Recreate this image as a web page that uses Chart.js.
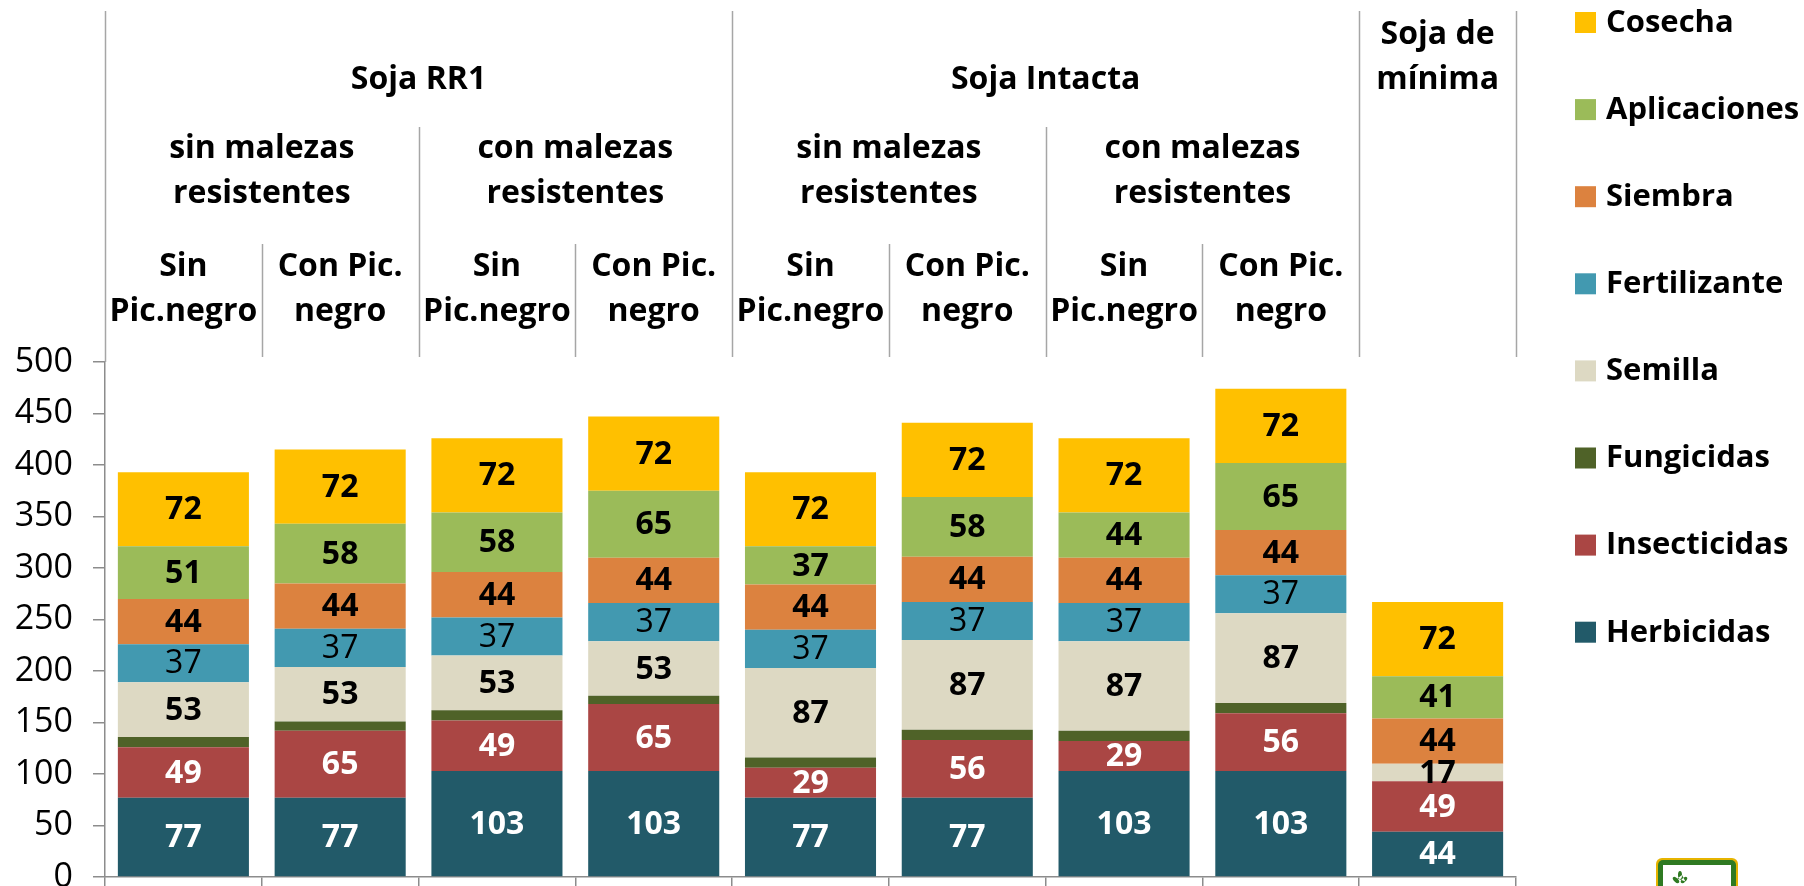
<!DOCTYPE html>
<html>
<head>
<meta charset="utf-8">
<script src="https://cdn.jsdelivr.net/npm/chart.js@4.4.0/dist/chart.umd.min.js"></script>
<style>
  html, body { margin: 0; padding: 0; background: #fff; }
  #wrap { width: 1804px; height: 886px; position: relative; }
</style>
</head>
<body>
<div id="wrap"><canvas id="costos"></canvas></div>
<script>
// columnas (de izquierda a derecha)
const categorias = [
    'Sin Pic.negro', 'Con Pic. negro', 'Sin Pic.negro', 'Con Pic. negro',
    'Sin Pic.negro', 'Con Pic. negro', 'Sin Pic.negro', 'Con Pic. negro',
    'Soja de mínima'
];

// cabecera en tres niveles
const cultivos = [['Soja RR1'], ['Soja Intacta'], ['Soja de', 'mínima']];
const cultivosSpan = [4, 4, 1];
const malezas = [
    ['sin malezas', 'resistentes'], ['con malezas', 'resistentes'],
    ['sin malezas', 'resistentes'], ['con malezas', 'resistentes'], []
];
const malezasSpan = [2, 2, 2, 2, 1];
const picudo = [
    ['Sin', 'Pic.negro'], ['Con Pic.', 'negro'], ['Sin', 'Pic.negro'], ['Con Pic.', 'negro'],
    ['Sin', 'Pic.negro'], ['Con Pic.', 'negro'], ['Sin', 'Pic.negro'], ['Con Pic.', 'negro'], []
];

// valores (u$s/ha) por rubro
const herbicidas   = [77, 77, 103, 103, 77, 77, 103, 103, 44];
const insecticidas = [49, 65, 49, 65, 29, 56, 29, 56, 49];
const fungicidas   = [10, 9, 10, 8, 10, 10, 10, 10, 0];
const semilla      = [53, 53, 53, 53, 87, 87, 87, 87, 17];
const fertilizante = [37, 37, 37, 37, 37, 37, 37, 37, 0];
const siembra      = [44, 44, 44, 44, 44, 44, 44, 44, 44];
const aplicaciones = [51, 58, 58, 65, 37, 58, 44, 65, 41];
const cosecha      = [72, 72, 72, 72, 72, 72, 72, 72, 72];

const yTicks = [0, 50, 100, 150, 200, 250, 300, 350, 400, 450, 500];

const FONT = "'Open Sans', 'Liberation Sans', sans-serif";
const GRIS = '#8c8c8c';

function serie(label, data, color, labelColor, labelWeight) {
    return {
        label, data,
        backgroundColor: color,
        borderWidth: 0,
        labelColor,            // null = sin etiqueta
        labelWeight: labelWeight || 'bold'
    };
}

const datasets = [
    serie('Herbicidas', herbicidas, '#225a69', '#ffffff'),
    serie('Insecticidas', insecticidas, '#aa4644', '#ffffff'),
    serie('Fungicidas', fungicidas, '#4f6228', null),
    serie('Semilla', semilla, '#ddd9c3', '#000000'),
    serie('Fertilizante', fertilizante, '#4299b0', '#000000', 'normal'),
    serie('Siembra', siembra, '#dc823f', '#000000'),
    serie('Aplicaciones', aplicaciones, '#9bbb59', '#000000'),
    serie('Cosecha', cosecha, '#ffc000', '#000000')
];

// etiquetas de valor dentro de cada segmento
const etiquetasPlugin = {
    id: 'etiquetas',
    afterDatasetsDraw(chart) {
        const ctx = chart.ctx;
        ctx.save();
        ctx.textAlign = 'center';
        ctx.textBaseline = 'middle';
        chart.data.datasets.forEach((ds, i) => {
            if (!ds.labelColor) return;
            const meta = chart.getDatasetMeta(i);
            meta.data.forEach((bar, j) => {
                const v = ds.data[j];
                if (!v) return;
                const { x, y, base } = bar.getProps(['x', 'y', 'base'], true);
                ctx.font = ds.labelWeight + ' 32px ' + FONT;
                ctx.fillStyle = ds.labelColor;
                ctx.fillText(String(v), x, (y + base) / 2 + 1);
            });
        });
        ctx.restore();
    }
};

// cabecera con los grupos y las lineas divisorias
const cabeceraPlugin = {
    id: 'cabecera',
    afterDraw(chart) {
        const { ctx, chartArea } = chart;
        const colW = (chartArea.right - chartArea.left) / categorias.length;
        const edge = k => chartArea.left + k * colW;

        const bordes = (spans) => {
            const out = [0];
            spans.reduce((acc, s) => { out.push(acc + s); return acc + s; }, 0);
            return out;
        };
        const bCult = bordes(cultivosSpan);
        const bMal = bordes(malezasSpan);

        // lineas verticales
        ctx.save();
        ctx.strokeStyle = '#a6a6a6';
        ctx.lineWidth = 1.5;
        for (let k = 0; k <= categorias.length; k++) {
            let top = 244;
            if (bCult.includes(k)) top = 11;
            else if (bMal.includes(k)) top = 127;
            const bottom = k === 0 ? chartArea.top : 357;
            const xx = Math.round(edge(k)) + 0.5;
            ctx.beginPath();
            ctx.moveTo(xx, top);
            ctx.lineTo(xx, bottom);
            ctx.stroke();
        }

        // textos
        ctx.fillStyle = '#000';
        ctx.textAlign = 'center';
        ctx.textBaseline = 'middle';
        ctx.font = 'bold 32px ' + FONT;
        const escribir = (grupos, spans, lastY) => {
            let k = 0;
            grupos.forEach((lineas, g) => {
                const cx = (edge(k) + edge(k + spans[g])) / 2;
                lineas.forEach((t, n) => {
                    ctx.fillText(t, cx, lastY - (lineas.length - 1 - n) * 45);
                });
                k += spans[g];
            });
        };
        escribir(cultivos, cultivosSpan, 80);
        escribir(malezas, malezasSpan, 194);
        escribir(picudo, picudo.map(() => 1), 312);
        ctx.restore();
    }
};

// leyenda a la derecha (de arriba hacia abajo: Cosecha ... Herbicidas)
const leyendaPlugin = {
    id: 'leyenda',
    afterDraw(chart) {
        const ctx = chart.ctx;
        ctx.save();
        ctx.font = 'bold 31px ' + FONT;
        ctx.textBaseline = 'middle';
        ctx.textAlign = 'left';
        const items = chart.data.datasets.slice().reverse();
        items.forEach((ds, i) => {
            const cy = 22 + i * 87.1;
            ctx.fillStyle = ds.backgroundColor;
            ctx.fillRect(1575, cy - 10, 21, 21);
            ctx.fillStyle = '#000';
            ctx.fillText(ds.label, 1606, cy + 1);
        });

        // logo recortado abajo a la derecha
        ctx.fillStyle = '#e6b400';
        ctx.beginPath();
        ctx.roundRect(1656, 858, 82, 40, 6);
        ctx.fill();
        ctx.fillStyle = '#2f7a22';
        ctx.beginPath();
        ctx.roundRect(1658, 860, 78, 38, 5);
        ctx.fill();
        ctx.fillStyle = '#fff';
        ctx.fillRect(1663, 865, 68, 30);
        ctx.fillStyle = '#2f7a22';
        ctx.beginPath();
        ctx.ellipse(1680, 875, 2, 4, 0, 0, Math.PI * 2);
        ctx.ellipse(1676, 880, 2, 4, -0.8, 0, Math.PI * 2);
        ctx.ellipse(1684, 880, 2, 4, 0.8, 0, Math.PI * 2);
        ctx.fill();
        ctx.restore();
    }
};

new Chart(document.getElementById('costos'), {
    type: 'bar',
    data: { labels: categorias, datasets },
    options: {
        responsive: true,
        maintainAspectRatio: false,
        animation: false,
        layout: { padding: { top: 362, right: 288, bottom: 0, left: 0 } },
        datasets: {
            bar: { categoryPercentage: 1, barPercentage: 0.836 }
        },
        plugins: {
            legend: { display: false },
            tooltip: { enabled: false },
            title: { display: false }
        },
        scales: {
            x: {
                stacked: true,
                offset: true,
                ticks: { display: false },
                grid: {
                    display: true,
                    drawOnChartArea: false,
                    drawTicks: true,
                    tickLength: 10,
                    color: GRIS,
                    lineWidth: 1.5
                },
                border: { display: true, color: GRIS, width: 1.5 },
                afterFit: (scale) => {
                    scale.height = 9;
                    scale.paddingLeft = 0;
                    scale.paddingRight = 0;
                }
            },
            y: {
                stacked: true,
                min: 0,
                max: 500,
                afterBuildTicks: (scale) => { scale.ticks = yTicks.map(v => ({ value: v })); },
                ticks: {
                    color: '#000',
                    padding: 20,
                    font: { family: FONT, size: 34, weight: 'normal' }
                },
                grid: {
                    display: true,
                    drawOnChartArea: false,
                    drawTicks: true,
                    tickLength: 12,
                    color: GRIS,
                    lineWidth: 1.5
                },
                border: { display: true, color: GRIS, width: 1.5 },
                afterFit: (scale) => {
                    scale.width = 105;
                    scale.paddingTop = 0;
                    scale.paddingBottom = 0;
                }
            }
        }
    },
    plugins: [etiquetasPlugin, cabeceraPlugin, leyendaPlugin]
});
</script>
</body>
</html>
